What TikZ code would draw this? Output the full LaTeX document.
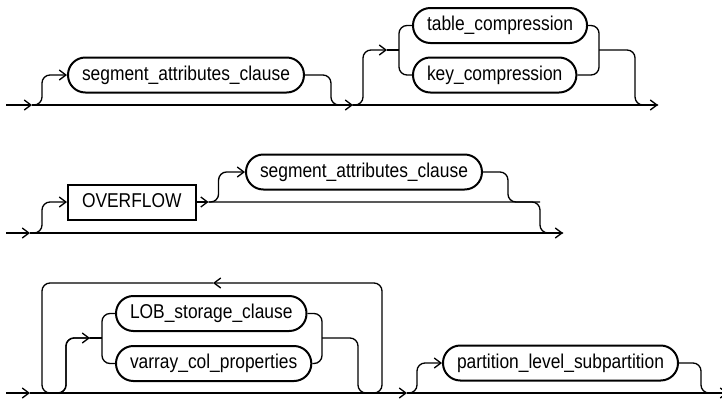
\documentclass[tikz,border=0pt]{standalone}
\usepackage{fontspec}
\setmainfont{Liberation Sans}
\newfontfamily\railfont{Liberation Sans}[FakeStretch=0.87]
\usepackage{tikz}
\usetikzlibrary{positioning, arrows.meta, calc}

\tikzset{
  rail/.style={line width=1pt, rounded corners=6pt},
  railarr/.style={rail, -{Straight Barb[length=5pt,width=7.5pt]}},
  nonterm/.style={draw, line width=1.5pt, rounded corners=13pt, minimum height=26.25pt,
    inner xsep=10.5pt, text height=10.8pt, text depth=3.2pt,
    font=\railfont\fontsize{15}{17}\selectfont, anchor=west},
  keyword/.style={nonterm, sharp corners},
}

\begin{document}
\begin{tikzpicture}[x=0.75pt, y=-0.75pt]
\useasboundingbox (0,0) rectangle (722,400);
% row 1: [segment_attributes_clause] [table_compression | key_compression]
\node[nonterm] (sac1) at (67,75) {segment\_attributes\_clause};
\node[nonterm] (tabc) at (412,25.5) {table\_compression};
\node[nonterm] (keyc) at (412,75) {key\_compression};
\coordinate (r1in) at (6,105);
\coordinate (r1a) at (32,105);
\coordinate (r1b) at (353,105);
\coordinate (r1out) at (658,105);
\coordinate (r1fork) at (387,50);
\coordinate (r1join) at ($(tabc.east)+(11,24.5)$);
\draw[railarr] (r1in) -- (r1a);
\draw[railarr] (r1a) -- (r1b);
\draw[railarr] (r1b) -- (r1out);
\draw[railarr] (r1a) -- ++(10,0) |- (sac1.west);
\draw[rail] (sac1.east) -- ++(26,0) |- (r1b);
\draw[railarr] (r1b) -- ++(10,0) |- (r1fork);
\draw[rail] (r1fork) -- ++(12,0);
\draw[rail] (tabc.west) -- ++(-13,0) |- (keyc.west);
\draw[rail] (tabc.east) -- ++(11,0) |- (keyc.east);
\draw[rail] (r1join) -- ++(36,0) |- (r1out);
% row 2: [OVERFLOW [segment_attributes_clause]]
\node[keyword] (ovf) at (67,202) {OVERFLOW};
\node[nonterm] (sac2) at (245,172) {segment\_attributes\_clause};
\coordinate (r2in) at (6,233);
\coordinate (r2a) at (30,233);
\coordinate (r2out) at (563,233);
\coordinate (r2b) at ($(ovf.east)+(12,0)$);
\coordinate (r2c) at (540,202);
\draw[railarr] (r2in) -- (r2a);
\draw[railarr] (r2a) -- (r2out);
\draw[railarr] (r2a) -- ++(12,0) |- (ovf.west);
\draw[railarr] (ovf.east) -- (r2b);
\draw[railarr] (r2b) -- ++(10,0) |- (sac2.west);
\draw[rail] (r2b) -- (r2c) |- (r2out);
\draw[rail] (sac2.east) -- ++(25,0) |- (r2c);
% row 3: loop over LOB_storage_clause | varray_col_properties, then partition_level_subpartition
\node[nonterm] (lob) at (115,313.5) {LOB\_storage\_clause};
\node[nonterm] (varr) at (115,363.5) {varray\_col\_properties};
\node[nonterm] (pls) at (442,363) {partition\_level\_subpartition};
\coordinate (r3in) at (6,393);
\coordinate (r3a) at (30,393);
\coordinate (r3b) at (407,393);
\coordinate (r3out) at (728,393);
\coordinate (r3fork) at (90,338);
\coordinate (r3join) at (322,338);
\coordinate (loopmid) at (213,283);
\draw[railarr] (r3in) -- (r3a);
\draw[railarr] (r3a) -- (r3b);
\draw[railarr] (r3b) -- (r3out);
\draw[railarr] (r3a) -- ++(36,0) |- (r3fork);
\draw[rail] (r3fork) -- ++(12,0);
\draw[rail] (lob.west) -- ++(-13,0) |- (varr.west);
\draw[rail] (lob.east) -| (r3join) |- (varr.east);
\draw[railarr] (r3join) -- ++(36,0) -- ++(0,55) -- ++(24,0) |- (loopmid);
\draw[rail] (loopmid) -- ++(-171,0) -- ++(0,110) -- ++(24,0) |- (r3fork);
\draw[railarr] (r3b) -- ++(10,0) |- (pls.west);
\draw[rail] (pls.east) -- ++(22,0) |- (r3out);
\end{tikzpicture}
\end{document}
